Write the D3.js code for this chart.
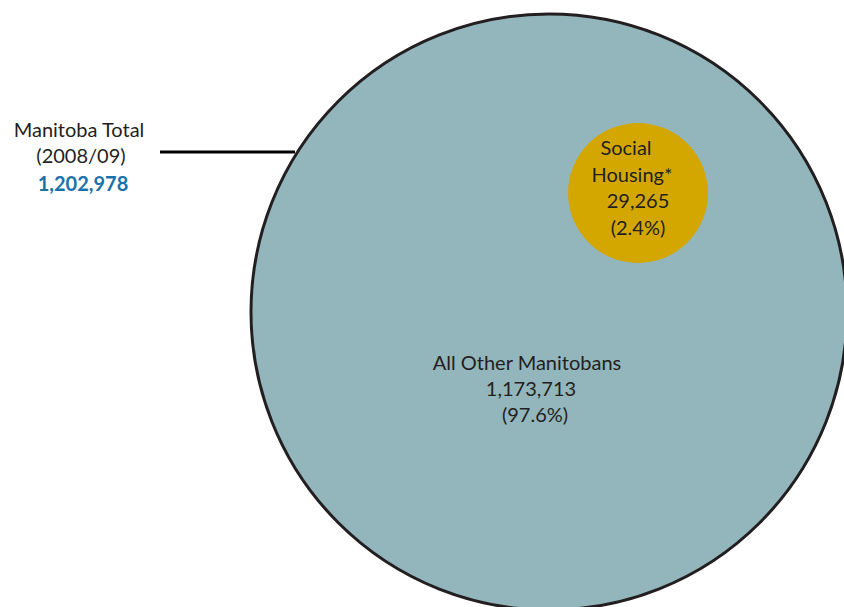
<!DOCTYPE html>
<html>
<head>
<meta charset="utf-8">
<script src="https://cdn.jsdelivr.net/npm/d3@7"></script>
<style>
html,body{margin:0;padding:0;background:#fff;}
svg{display:block;}
text{font-family:Lato,"Open Sans",sans-serif;fill:#231f20;}
</style>
</head>
<body>
<svg id="chart" width="844" height="607"></svg>
<script>
// ---- data ----
const categories = ["All Other Manitobans", "Social Housing*"];
const values = [1173713, 29265];
const percents = ["97.6%", "2.4%"];
const totalTitle = ["Manitoba Total", "(2008/09)"];
const totalValue = 1202978;

// ---- layout ----
const W = 844, H = 607;
const svg = d3.select("#chart");
const fmt = d3.format(",");

// radius scale (picture uses a compressed size encoding)
const rScale = d3.scalePow().exponent(0.39).domain([0, totalValue]).range([0, 298]);

const bigC = {x: 549, y: 312};
const smallC = {x: 638, y: 193};

// leader line
svg.append("line")
  .attr("x1", 160).attr("x2", bigC.x - rScale(totalValue) + 44)
  .attr("y1", 152).attr("y2", 152)
  .attr("stroke", "#000").attr("stroke-width", 3);

// big circle (total)
svg.append("circle")
  .attr("cx", bigC.x).attr("cy", bigC.y)
  .attr("r", rScale(totalValue))
  .attr("fill", "#92b6bc")
  .attr("stroke", "#231f20").attr("stroke-width", 3);

// small circle (social housing)
svg.append("circle")
  .attr("cx", smallC.x).attr("cy", smallC.y)
  .attr("r", rScale(values[1]))
  .attr("fill", "#d3a700");

const FS = 20;
// total label
const tl = svg.append("text").attr("text-anchor", "middle").attr("font-size", FS);
tl.append("tspan").attr("x", 79).attr("y", 137).text(totalTitle[0]);
tl.append("tspan").attr("x", 81).attr("y", 163).text(totalTitle[1]);
tl.append("tspan").attr("x", 83).attr("y", 191)
  .attr("font-weight", "bold").style("fill", "#1a72ad").text(fmt(totalValue));

// social housing label
const shParts = categories[1].split(" ");
const sl = svg.append("text").attr("text-anchor", "middle").attr("font-size", FS);
sl.append("tspan").attr("x", smallC.x - 12).attr("y", 155).text(shParts[0]);
sl.append("tspan").attr("x", smallC.x - 6).attr("y", 182).text(shParts[1]);
sl.append("tspan").attr("x", smallC.x).attr("y", 208).text(fmt(values[1]));
sl.append("tspan").attr("x", smallC.x).attr("y", 235).text("(" + percents[1] + ")");

// all other label
const al = svg.append("text").attr("text-anchor", "middle").attr("font-size", FS);
al.append("tspan").attr("x", 527).attr("y", 370).text(categories[0]);
al.append("tspan").attr("x", 531).attr("y", 396).text(fmt(values[0]));
al.append("tspan").attr("x", 535).attr("y", 422).text("(" + percents[0] + ")");
</script>
</body>
</html>
